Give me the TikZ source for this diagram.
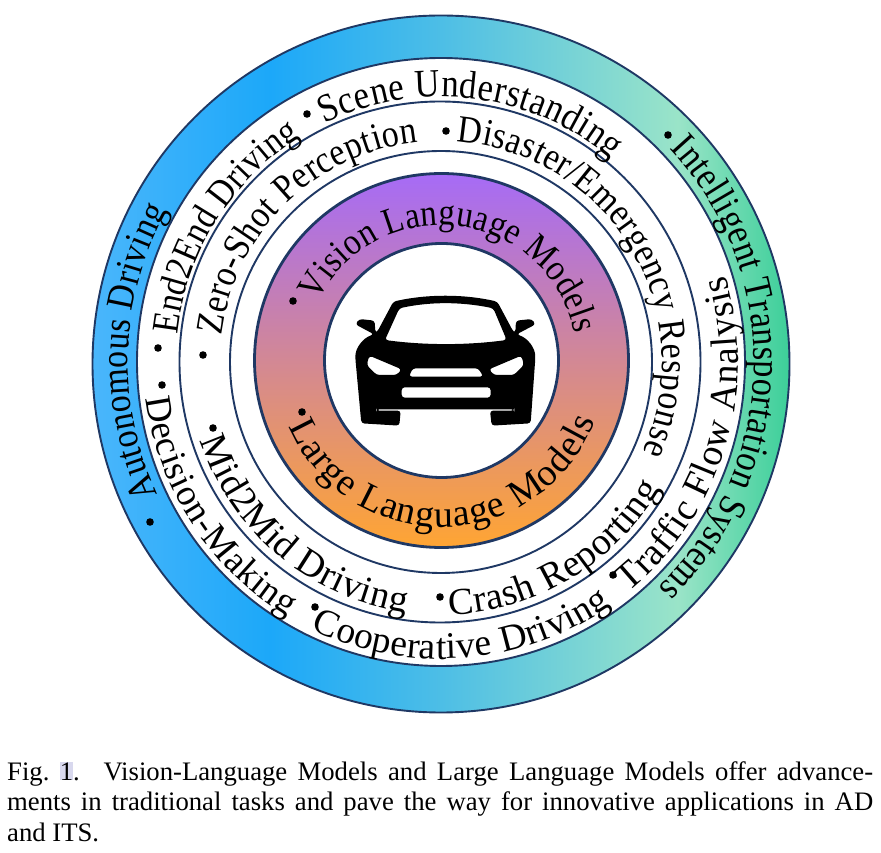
\documentclass[tikz,border=0pt]{standalone}
\usepackage{fontspec}
\setmainfont{Liberation Serif}
\newfontfamily\narrowserif[FakeStretch=0.88]{Liberation Serif}
\usetikzlibrary{decorations.text}
\definecolor{ringnavy}{HTML}{1F3864}
\definecolor{ringpurple}{HTML}{A66BF6}
\definecolor{ringorange}{HTML}{FFA533}
\definecolor{capmark}{HTML}{D8D8EE}
\definecolor{bandA}{HTML}{4AB6FB}
\definecolor{bandB}{HTML}{1CA8F9}
\definecolor{bandC}{HTML}{4DBEE6}
\definecolor{bandD}{HTML}{9AE4C8}
\definecolor{bandE}{HTML}{3CCF99}
\pgfdeclarehorizontalshading{outerband}{100bp}{color(0bp)=(bandA);
	color(25bp)=(bandA);color(37.75bp)=(bandB);color(50bp)=(bandC);
	color(67bp)=(bandD);color(75bp)=(bandE);color(100bp)=(bandE)}
\newcommand{\ringtext}[5]{\path[decorate,decoration={text along path,text align={fit to path},
		text={|\fontsize{#4}{#4}\selectfont|#5}}] ([shift={(#2:#1)}]ringc) arc [start angle=#2,end angle=#3,radius=#1];}
\newcommand{\narrowtext}[5]{\path[decorate,decoration={text along path,text align={fit to path},
		text={|\narrowserif\fontsize{#4}{#4}\selectfont|#5}}] ([shift={(#2:#1)}]ringc) arc [start angle=#2,end angle=#3,radius=#1];}
\tikzset{
	ringline/.style={draw=ringnavy,line width=1.9pt},
	thickring/.style={draw=ringnavy,line width=2.8pt},
	carbody/.style={fill=black,even odd rule,rounded corners=3pt},
	captiontext/.style={font=\fontsize{26.7}{30.5}\selectfont,text width=866pt,align=justify,inner sep=0pt,anchor=north west}
}
\begin{document}
\begin{tikzpicture}[x=1pt,y=1pt,line join=round,line cap=round]
	\useasboundingbox (0,0) rectangle (881,852);
	\coordinate (ringc) at (441,490);
	% rings
	\shadedraw[ringline,shading=outerband] (441,488) circle (348.5);
	\filldraw[ringline,fill=white] (441,490) circle (304);
	\draw[ringline] (440,490) circle (260.5);
	\draw[ringline] (441,490) circle (211);
	\draw[thickring,top color=ringpurple,bottom color=ringorange] (441.5,491.5) circle (187);
	\filldraw[thickring,fill=white] (441.5,491.5) circle (117);
	% outer band
	\narrowtext{313}{205}{151}{38.5}{Autonomous Driving}
	\narrowtext{313}{43}{-46}{39}{Intelligent Transportation Systems}
	% second band
	\narrowtext{265}{116}{50}{39.5}{Scene Understanding}
	\narrowtext{265}{174}{122}{38}{End2End Driving}
	\ringtext{297}{187}{239}{37}{Decision-Making}
	\ringtext{297}{244}{305}{37.5}{Cooperative Driving}
	\ringtext{297}{309}{377}{38}{Traffic Flow Analysis}
	% third band
	\narrowtext{221}{173}{96}{38.5}{Zero-Shot Perception}
	\narrowtext{221}{86}{-24}{38.5}{Disaster/Emergency Response}
	\ringtext{253}{198}{262}{38}{Mid2Mid Driving}
	\ringtext{253}{272}{330}{38}{Crash Reporting}
	% gradient ring
	\narrowtext{137}{154}{12}{37.5}{Vision Language Models}
	\ringtext{165}{203}{339}{38}{Large Language Models}
	% bullets
	\foreach \bx/\by in {150/522,668/135,307/114,158/348,162/385,315/607,613/575,203/355,446/131,213/428,440/597,293/301,302/412}
		\fill (\bx,852-\by) circle (3.8);
	% car
	\begin{scope}[shift={(340,572)},x=0.3333pt,y=-0.3333pt]
		\path[carbody] (160,65) .. controls (260,42) and (372,42) .. (472,65) -- (520,155) -- (526,158) -- (528,122) -- (575,117) -- (587,133) -- (530,163)
			.. controls (565,175) and (585,205) .. (586,235) -- (572,430) -- (455,437) -- (450,392) -- (523,392) -- (523,388) -- (109,388) -- (109,392) -- (182,392) -- (178,437) -- (64,430) -- (46,235)
			.. controls (47,205) and (67,175) .. (102,163) -- (46,133) -- (58,117) -- (104,122) -- (106,158) -- (112,155) -- cycle
			(178,85) .. controls (270,65) and (362,65) .. (460,85) -- (500,180) .. controls (380,196) and (255,196) .. (135,180) -- cycle
			(88,227) -- (185,268) -- (170,285) -- (110,285) -- (80,255) -- cycle
			(544,227) -- (447,268) -- (462,285) -- (522,285) -- (552,255) -- cycle
			(218,265) -- (415,265) -- (430,290) -- (207,290) -- cycle
			(185,322) rectangle (452,353);
	\end{scope}
	\node[captiontext] (figcaption) at (7,91) {Fig.\ {\setlength{\fboxsep}{0pt}\colorbox{capmark}{1}}.\enskip\ Vision-Language Models and Large Language Models offer advance-\linebreak ments in traditional tasks and pave the way for innovative applications in AD\linebreak and ITS.};
\end{tikzpicture}
\end{document}
